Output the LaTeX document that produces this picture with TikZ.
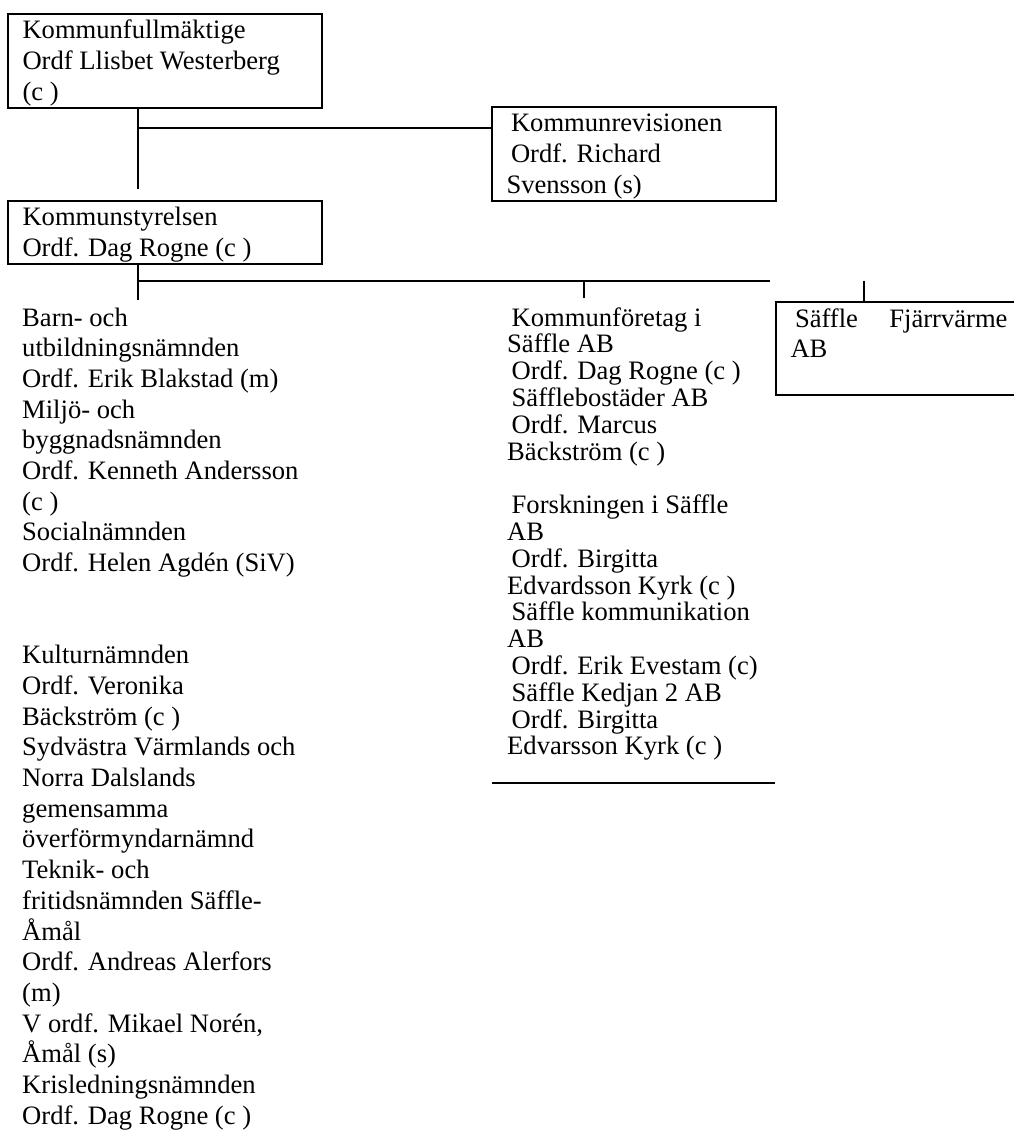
\documentclass[tikz,border=0pt]{standalone}
\usepackage{fontspec}
\setmainfont{Liberation Serif}
\usetikzlibrary{positioning}

\newcommand{\ind}{\hspace*{4.5pt}}

\begin{document}
\begin{tikzpicture}[
    x = 1pt, y = -1pt,
    font = \fontsize{26.6}{30.7}\selectfont,
    org/.style = {draw, line width=2pt, outer sep=0pt, anchor=north west,
                  align=flush left, inner xsep=14.5pt, inner ysep=0pt, text height=25pt},
    lista/.style = {anchor=base west, align=flush left, inner sep=0pt},
    gren/.style = {line width=1.3pt}
]
    \useasboundingbox (0,0) rectangle (1013,1131);

    % boxes
    \node[org, text width=285pt, text depth=69pt] (kf) at (8,14)
        {Kommunfullmäktige\\Ordf Llisbet Westerberg\\(c )};
    \node[org, text width=255pt, text depth=69pt] (rev) at (492,107)
        {\ind Kommunrevisionen\\\ind Ordf. Richard\\Svensson (s)};
    \node[org, text width=285pt, text depth=38pt] (ks) at (8,201)
        {Kommunstyrelsen\\Ordf. Dag Rogne (c )};
    \node[org, text width=217pt, text depth=68pt] (fjv) at (776,302)
        {\ind Säffle\hfill Fjärrvärme\\AB};

    % lists
    \node[lista, text width=300pt] (namnd) at (22,326)
        {Barn- och\\utbildningsnämnden\\Ordf. Erik Blakstad (m)\\Miljö- och\\
         byggnadsnämnden\\Ordf. Kenneth Andersson\\(c )\\Socialnämnden\\
         Ordf. Helen Agdén (SiV)\\[2\baselineskip]
         Kulturnämnden\\Ordf. Veronika\\Bäckström (c )\\Sydvästra Värmlands och\\
         Norra Dalslands\\gemensamma\\överförmyndarnämnd\\Teknik- och\\
         fritidsnämnden Säffle-\\Åmål\\Ordf. Andreas Alerfors\\(m)\\
         V ordf. Mikael Norén,\\Åmål (s)\\Krisledningsnämnden\\Ordf. Dag Rogne (c )};
    \node[lista, text width=270pt, font=\fontsize{26.6}{26.8}\selectfont] (bolag) at (507,326)
        {\ind Kommunföretag i\\Säffle AB\\\ind Ordf. Dag Rogne (c )\\
         \ind Säfflebostäder AB\\\ind Ordf. Marcus\\Bäckström (c )\\[\baselineskip]
         \ind Forskningen i Säffle\\AB\\\ind Ordf. Birgitta\\Edvardsson Kyrk (c )\\
         \ind Säffle kommunikation\\AB\\\ind Ordf. Erik Evestam (c)\\
         \ind Säffle Kedjan 2 AB\\\ind Ordf. Birgitta\\Edvarsson Kyrk (c )};

    % lines
    \coordinate (kfstam) at (138,189);
    \coordinate (revgren) at (138,128);
    \coordinate (ksstam) at (138,300);
    \coordinate (ksgren) at (138,281);
    \coordinate (ksgrenslut) at (770,281);
    \coordinate (bolagtopp) at (584,298);
    \coordinate (fjvtopp) at (864,281);
    \coordinate (bolagbotten) at (492,783);
    \coordinate (bolagbottenslut) at (775,783);

    \draw[gren] (kf.south -| kfstam) -- (kfstam);
    \draw[gren] (revgren) -- (revgren -| rev.west);
    \draw[gren] (ks.south -| ksstam) -- (ksstam);
    \draw[gren, line width=1.8pt] (ksgren) -- (ksgrenslut);
    \draw[gren] (bolagtopp |- ksgren) -- (bolagtopp);
    \draw[gren] (fjvtopp) -- (fjvtopp |- fjv.north);
    \draw[gren, line width=1.8pt] (bolagbotten) -- (bolagbottenslut);
\end{tikzpicture}
\end{document}
